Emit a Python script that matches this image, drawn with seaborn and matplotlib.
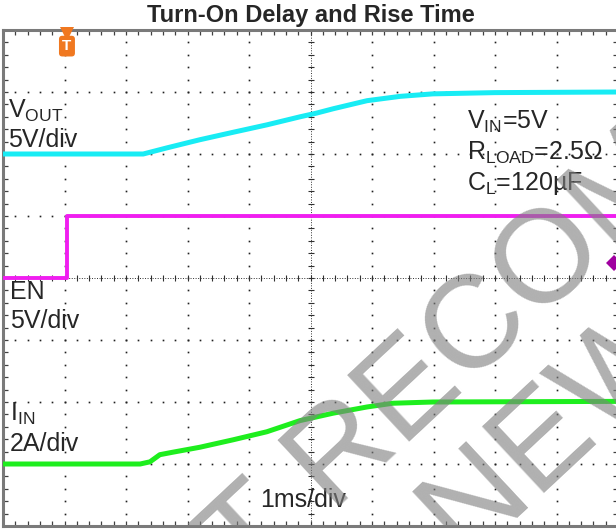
import numpy as np
import pandas as pd
import matplotlib
matplotlib.use("Agg")
import matplotlib.pyplot as plt
from matplotlib.ticker import MultipleLocator
import seaborn as sns

# ---------------- data (time in ms, 1 ms/div) ----------------
vout_time_ms = [0.0, 2.28, 2.67, 3.2, 3.74, 4.29, 4.83, 5.1, 5.37, 5.92, 6.46, 6.99, 8.0, 10.0]
vout_volts = [0.0, 0.0, 0.5, 1.15, 1.75, 2.35, 3.0, 3.3, 3.65, 4.3, 4.65, 4.85, 4.95, 5.0]

en_time_ms = [0.0, 1.04, 1.04, 10.0]
en_volts = [0.0, 0.0, 5.0, 5.0]

iin_time_ms = [0.0, 2.23, 2.39, 2.55, 2.76, 3.2, 3.74, 4.29, 4.83, 5.1, 5.37, 5.92, 6.34, 6.99, 10.0]
iin_amps = [0.0, 0.0, 0.07, 0.3, 0.38, 0.54, 0.78, 1.04, 1.4, 1.52, 1.64, 1.84, 1.96, 2.0, 2.02]

# channel scale (units/div) and screen offset (div)
VOUT_SCALE, VOUT_OFF = 5.0, 6.0
EN_SCALE, EN_OFF = 5.0, 4.0
IIN_SCALE, IIN_OFF = 2.0, 1.0

title = "Turn-On Delay and Rise Time"
conditions = [r"$\mathregular{V_{IN}}$=5V", r"$\mathregular{R_{LOAD}}$=2.5Ω", r"$\mathregular{C_{L}}$=120µF"]

# ---------------- style ----------------
sns.set_theme(style="white")
plt.rcParams["font.family"] = ["Liberation Sans", "DejaVu Sans"]
plt.rcParams["mathtext.fontset"] = "custom"
plt.rcParams["mathtext.rm"] = "Liberation Sans"
plt.rcParams["mathtext.it"] = "Liberation Sans"

W, H = 616, 529
fig = plt.figure(figsize=(W / 100, H / 100), dpi=100)
ax = fig.add_axes([3 / W, 3 / H, 615 / W, 496 / H])
ax.set_xlim(0, 10)
ax.set_ylim(0, 8)

# grid of dots on the division lines
sub = np.arange(0, 10.001, 0.2)
sub_y = np.arange(0, 8.001, 0.2)
for gx in [1, 2, 3, 4, 6, 7, 8, 9]:
    ax.plot(np.full_like(sub_y, gx), sub_y, ls="none", marker="s", ms=1.2, mew=0, color="#202020", zorder=1)
for gy in [1, 2, 3, 5, 6, 7]:
    ax.plot(sub, np.full_like(sub, gy), ls="none", marker="s", ms=1.2, mew=0, color="#202020", zorder=1)
# centre cross with small ticks
ax.axhline(4, color="#303030", lw=0.7, ls=(0, (1, 1.6)), zorder=1)
ax.axvline(5, color="#303030", lw=0.7, ls=(0, (1, 1.6)), zorder=1)
ax.plot(sub, np.full_like(sub, 4), ls="none", marker="|", ms=5, mew=0.8, color="#303030", zorder=1)
ax.plot(np.full_like(sub_y, 5), sub_y, ls="none", marker="_", ms=5, mew=0.8, color="#303030", zorder=1)

# border ticks
ax.xaxis.set_major_locator(MultipleLocator(1))
ax.yaxis.set_major_locator(MultipleLocator(1))
ax.xaxis.set_minor_locator(MultipleLocator(0.2))
ax.yaxis.set_minor_locator(MultipleLocator(0.2))
ax.tick_params(which="both", direction="in", length=3.5, width=0.9, color="#404040",
               top=True, right=True, bottom=True, left=True,
               labelbottom=False, labelleft=False)
for s in ax.spines.values():
    s.set_color("#7a7a7a")
    s.set_linewidth(2.2)

# ---------------- traces ----------------
df_vout = pd.DataFrame({"t": vout_time_ms, "y": np.array(vout_volts) / VOUT_SCALE + VOUT_OFF})
df_en = pd.DataFrame({"t": en_time_ms, "y": np.array(en_volts) / EN_SCALE + EN_OFF})
df_iin = pd.DataFrame({"t": iin_time_ms, "y": np.array(iin_amps) / IIN_SCALE + IIN_OFF})

sns.lineplot(data=df_vout, x="t", y="y", ax=ax, color="#18ECF4", lw=3.6, estimator=None, sort=False, zorder=3)
sns.lineplot(data=df_en, x="t", y="y", ax=ax, color="#F01EF0", lw=2.8, estimator=None, sort=False, zorder=3)
ax.plot([en_time_ms[1], en_time_ms[2]], [EN_OFF, EN_OFF + en_volts[2] / EN_SCALE], color="#F01EF0", lw=1.2, zorder=3)
sns.lineplot(data=df_iin, x="t", y="y", ax=ax, color="#1EEE1E", lw=3.6, estimator=None, sort=False, zorder=3)
ax.set_xlabel("")
ax.set_ylabel("")

# trigger marker and channel marker
ax.plot(en_time_ms[1], 7.94, marker="v", color="#F07820", ms=10, mew=0, clip_on=False, zorder=6)
ax.text(en_time_ms[1], 7.74, "T", color="white", fontsize=11, fontweight="bold", ha="center", va="center",
        bbox=dict(boxstyle="round,pad=0.22", fc="#F07820", ec="none"), zorder=6)
ax.plot(9.93, 4.24, marker="D", color="#A000A0", ms=8, mew=0, clip_on=True, zorder=6)

# ---------------- labels ----------------
fs = 18
ax.text(0.08, 6.58, r"$\mathregular{V_{OUT}}$", fontsize=fs, va="baseline", ha="left", zorder=5)
ax.text(0.08, 6.11, "5V/div", fontsize=fs, va="baseline", ha="left", zorder=5)
ax.text(0.11, 3.66, "EN", fontsize=fs, va="baseline", ha="left", zorder=5)
ax.text(0.11, 3.19, "5V/div", fontsize=fs, va="baseline", ha="left", zorder=5)
ax.text(0.11, 1.69, r"$\mathregular{I_{IN}}$", fontsize=fs, va="baseline", ha="left", zorder=5)
ax.text(0.11, 1.21, "2A/div", fontsize=fs, va="baseline", ha="left", zorder=5)
ax.text(4.18, 0.31, "1ms/div", fontsize=fs, va="baseline", ha="left", zorder=5)
for txt, yb in zip(conditions, [6.4, 5.9, 5.42]):
    ax.text(7.54, yb, txt, fontsize=fs, va="baseline", ha="left", zorder=5)

fig.text(311 / W, 1 - 22 / H, title, fontsize=17, fontweight="bold", ha="center", va="baseline")

# watermark
ax.text(10.15, 3.97, "NOT RECOMMENDED\nFOR NEW DESIGNS", fontsize=95, color="#808080", alpha=0.62,
        rotation=43, rotation_mode="anchor", ha="center", va="center", multialignment="center",
        linespacing=1.06, clip_on=True, zorder=7)

fig.savefig("out.png", dpi=100)
